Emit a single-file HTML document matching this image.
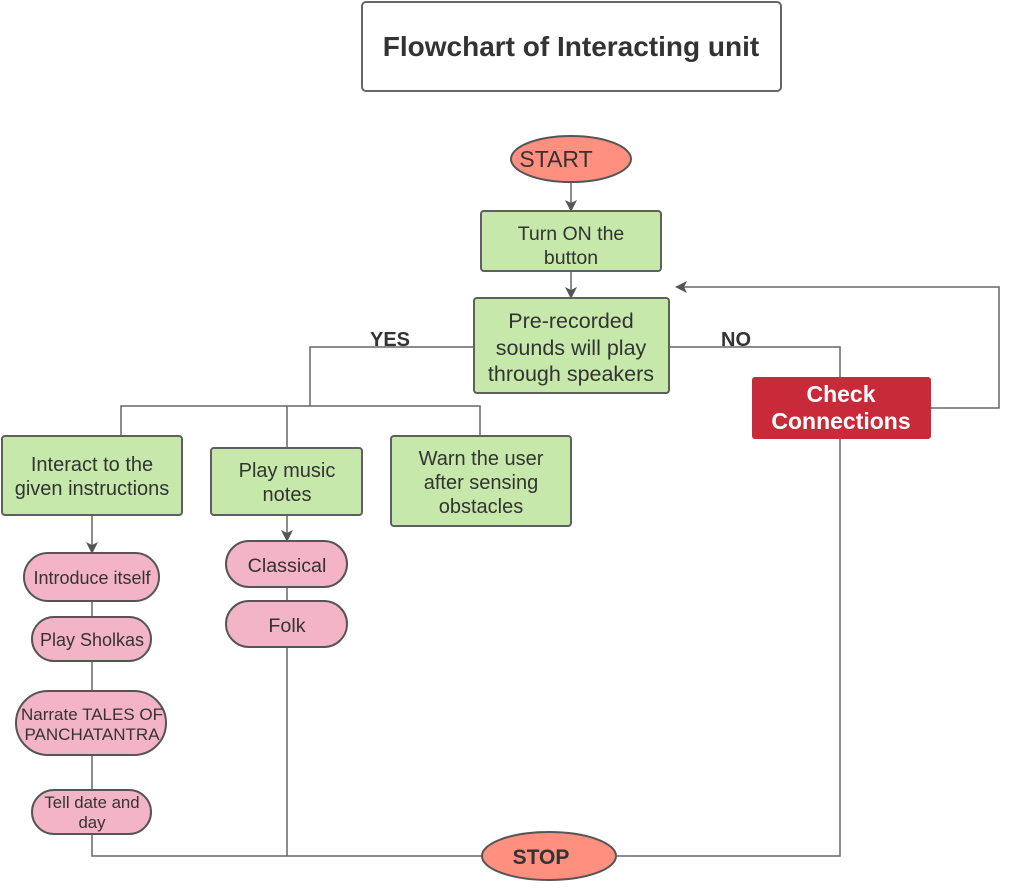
<!DOCTYPE html>
<html><head><meta charset="utf-8"><style>
html,body{margin:0;padding:0;background:#fff;}
svg{display:block;font-family:"Liberation Sans",Arial,sans-serif;}
</style></head><body>
<svg width="1009" height="888" viewBox="0 0 1009 888" xmlns="http://www.w3.org/2000/svg">
<defs>
<marker id="ar" markerWidth="12" markerHeight="12" refX="10" refY="6" orient="auto" markerUnits="userSpaceOnUse">
<path d="M0,0 L12,6 L0,12 L3,6 Z" fill="#555"/>
</marker>
</defs>
<g fill="none" stroke="#666" stroke-width="1.5">
<line x1="571" y1="182" x2="571" y2="210" marker-end="url(#ar)"/>
<line x1="571" y1="271" x2="571" y2="297" marker-end="url(#ar)"/>
<polyline points="474,347 310,347 310,406"/>
<polyline points="121,436 121,406 480,406 480,436"/>
<line x1="287" y1="406" x2="287" y2="448"/>
<polyline points="669,347 840,347 840,377"/>
<polyline points="931,408 999,408 999,287 677,287" marker-end="url(#ar)"/>
<polyline points="840,439 840,856 615,856"/>
<line x1="92" y1="515" x2="92" y2="552" marker-end="url(#ar)"/>
<line x1="92" y1="601" x2="92" y2="617"/>
<line x1="92" y1="661" x2="92" y2="691"/>
<line x1="92" y1="755" x2="92" y2="790"/>
<polyline points="92,834 92,856 482,856"/>
<line x1="287" y1="515" x2="287" y2="540" marker-end="url(#ar)"/>
<line x1="287" y1="587" x2="287" y2="601"/>
<line x1="287" y1="647" x2="287" y2="856"/>
</g>
<rect x="362" y="2" width="419" height="89" rx="4" fill="#fff" stroke="#666" stroke-width="2"/>
<text x="571" y="56" text-anchor="middle" font-size="28" font-weight="bold" fill="#333">Flowchart of Interacting unit</text>
<ellipse cx="571" cy="159" rx="60" ry="23" fill="#ff8f7f" stroke="#555" stroke-width="2"/>
<text x="556" y="167" text-anchor="middle" font-size="23" fill="#333">START</text>
<g stroke="#5f5f5f" stroke-width="2" fill="#c6e8ab">
<rect x="481" y="211" width="180" height="60" rx="3"/>
<rect x="474" y="298" width="195" height="95" rx="3"/>
<rect x="2" y="436" width="180" height="79" rx="3"/>
<rect x="211" y="448" width="151" height="67" rx="3"/>
<rect x="391" y="436" width="180" height="90" rx="3"/>
</g>
<g font-size="20" fill="#333" text-anchor="middle">
<text x="571" y="240" font-size="19.5">Turn ON the</text><text x="571" y="264" font-size="19.5">button</text>
<text x="571" y="328" font-size="21.5">Pre-recorded</text>
<text x="571" y="355" font-size="21.5">sounds will play</text>
<text x="571" y="381" font-size="21.5">through speakers</text>
<text x="92" y="471">Interact to the</text><text x="92" y="495">given instructions</text>
<text x="287" y="477">Play music</text><text x="287" y="501">notes</text>
<text x="481" y="465">Warn the user</text><text x="481" y="489">after sensing</text><text x="481" y="513">obstacles</text>
</g>
<text x="390" y="346" text-anchor="middle" font-size="20" font-weight="bold" fill="#333">YES</text>
<text x="736" y="346" text-anchor="middle" font-size="20" font-weight="bold" fill="#333">NO</text>
<rect x="752" y="377" width="179" height="62" rx="3" fill="#c92a3a"/>
<text x="841" y="402" text-anchor="middle" font-size="23" font-weight="bold" fill="#fff">Check</text>
<text x="841" y="429" text-anchor="middle" font-size="23" font-weight="bold" fill="#fff">Connections</text>
<g stroke="#555" stroke-width="2" fill="#f4b4c7">
<rect x="24" y="553" width="135" height="48" rx="24"/>
<rect x="32" y="617" width="119" height="44" rx="22"/>
<rect x="16" y="691" width="150" height="64" rx="32"/>
<rect x="32" y="790" width="119" height="44" rx="22"/>
<rect x="226" y="541" width="121" height="46" rx="23"/>
<rect x="226" y="601" width="121" height="46" rx="23"/>
</g>
<g fill="#333" text-anchor="middle">
<text x="92" y="584" font-size="18">Introduce itself</text>
<text x="92" y="646" font-size="18">Play Sholkas</text>
<text x="92" y="720" font-size="17">Narrate TALES OF</text>
<text x="92" y="740" font-size="17">PANCHATANTRA</text>
<text x="92" y="808" font-size="16.8">Tell date and</text>
<text x="92" y="828" font-size="16.8">day</text>
<text x="287" y="572" font-size="19.7">Classical</text>
<text x="287" y="632" font-size="19.7">Folk</text>
</g>
<ellipse cx="549" cy="856" rx="67" ry="24" fill="#ff8f7f" stroke="#555" stroke-width="2"/>
<text x="541" y="864" text-anchor="middle" font-size="21" font-weight="bold" fill="#333">STOP</text>
</svg>
</body></html>
